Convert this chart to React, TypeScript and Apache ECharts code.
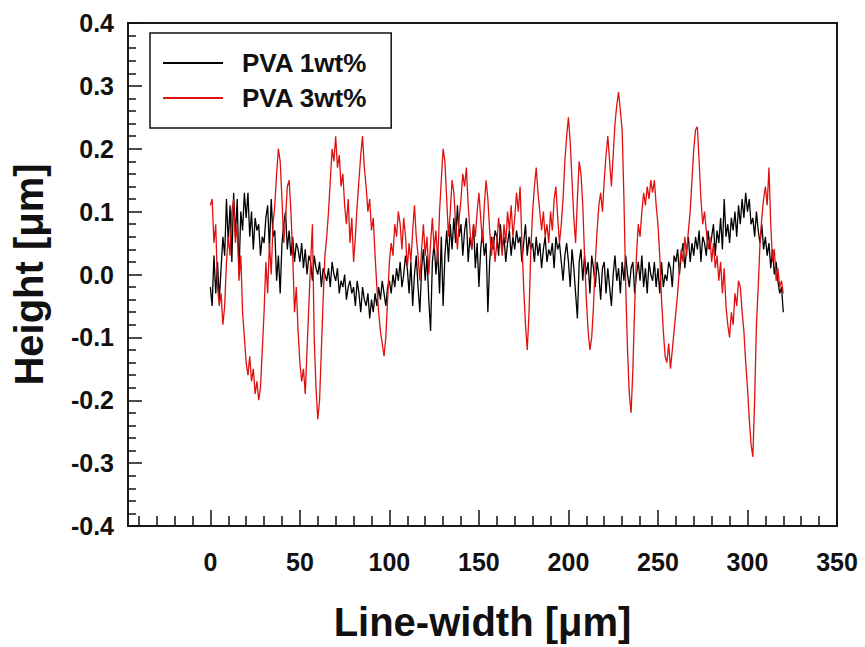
import React, { useEffect, useRef } from "react";
import * as echarts from "echarts";

// Sampling grid (µm) for both profiles
const xStart = 0;
const xStep = 1;

// PVA 1wt% heights (µm), x = 0..320
const pva1 = [
  -0.02, -0.05, 0.03, -0.03, 0.02, -0.04, 0.01, 0.06, 0.03, 0.12,
  0.05, 0.11, 0.02, 0.13, 0.06, 0.12, 0.0, 0.1, 0.07, 0.13,
  0.09, 0.13, 0.06, 0.1, 0.04, 0.09, 0.07, 0.08, 0.03, 0.06,
  0.05, 0.09, 0.11, 0.04, 0.12, 0.06, 0.07, -0.01, 0.03, -0.03,
  0.05, 0.08, 0.1, 0.04, 0.07, 0.03, 0.06, 0.02, 0.05, 0.04,
  0.02, 0.05, 0.01, 0.04, 0.0, 0.03, 0.02, -0.01, 0.03, 0.01,
  0.0, 0.02, -0.02, 0.01, 0.0, -0.01, 0.01, -0.02, 0.02, 0.0,
  -0.01, 0.01, -0.03, -0.01, -0.02, 0.0, -0.04, -0.02, -0.01, -0.03,
  -0.02, -0.05, -0.01, -0.03, -0.06, -0.02, -0.04, -0.05, -0.03, -0.07,
  -0.04, -0.06, -0.03, -0.05, -0.02, -0.04, -0.01, -0.03, -0.05, -0.02,
  -0.01, -0.03, 0.0, -0.02, 0.01, -0.01, 0.02, -0.02, 0.0, 0.03,
  0.01, -0.03, 0.02, -0.05, 0.0, 0.03, -0.02, -0.06, 0.01, 0.04,
  -0.01, 0.03, -0.04, -0.09, 0.02, 0.05, 0.0, 0.04, -0.03, 0.06,
  -0.05, 0.03, 0.07, 0.02, 0.08, 0.04, 0.09, 0.05, 0.11, 0.06,
  0.08, 0.03, 0.07, 0.09, 0.02, 0.06, 0.04, 0.08, 0.01, 0.05,
  -0.02, 0.04, 0.07, 0.03, 0.05, -0.06, 0.02, 0.06, 0.04, 0.07,
  0.06, 0.03, 0.08, 0.04, 0.06, 0.02, 0.05, 0.07, 0.03, 0.06,
  0.04, 0.07, 0.05, 0.06, 0.02, 0.05, 0.08, 0.03, 0.06, 0.04,
  0.05, 0.02, 0.06, 0.03, 0.05, 0.01, 0.04, 0.06, 0.02, 0.04,
  0.03, 0.05, 0.01, 0.06, 0.04, 0.05, 0.02, -0.01, 0.03, 0.05,
  0.02, -0.02, 0.04, 0.01, -0.03, -0.07, 0.02, 0.04, -0.01, 0.03,
  0.0, 0.02, -0.03, 0.03, 0.01, -0.02, 0.02, 0.0, -0.04, 0.01,
  0.02, -0.03, 0.01, -0.02, -0.05, 0.0, 0.03, -0.01, 0.01, -0.03,
  0.02, -0.01, 0.03, 0.0, -0.02, 0.01, 0.02, -0.03, 0.0, 0.02,
  -0.01, 0.03, -0.02, 0.01, -0.03, 0.02, 0.0, -0.01, 0.02, -0.02,
  0.01, -0.03, 0.02, -0.02, 0.0, -0.01, 0.02, 0.01, -0.02, 0.03,
  0.02, 0.04, 0.0, 0.03, 0.05, 0.01, 0.04, 0.06, 0.02, 0.05,
  0.03, 0.06, 0.04, 0.07, 0.02, 0.06, 0.05, 0.03, 0.07, 0.04,
  0.06, 0.08, 0.03, 0.07, 0.05, 0.09, 0.04, 0.12, 0.06, 0.08,
  0.05, 0.09, 0.07, 0.1, 0.06, 0.11, 0.08, 0.12, 0.09, 0.13,
  0.1, 0.12, 0.08, 0.09, 0.06, 0.1, 0.07, 0.05, 0.08, 0.04,
  0.06, 0.03, 0.05, 0.01, 0.04, 0.0, 0.02, -0.01, -0.03, -0.02,
  -0.06,
];

// PVA 3wt% heights (µm), x = 0..320
const pva3 = [
  0.11, 0.12, 0.05, 0.08, -0.02, -0.05, -0.03, -0.08, -0.05, 0.02,
  0.06, 0.03, 0.1, 0.12, 0.05, 0.08, -0.01, 0.03, -0.06, -0.1,
  -0.14, -0.16, -0.13, -0.17, -0.15, -0.19, -0.17, -0.2, -0.18, -0.12,
  -0.06, 0.02, -0.03, 0.05, 0.0, 0.08, 0.11, 0.16, 0.2, 0.18,
  0.12, 0.05, 0.09, 0.14, 0.15, 0.1, 0.03, -0.06, -0.02, -0.09,
  -0.14, -0.17, -0.15, -0.19, -0.12, -0.05, 0.02, 0.08, -0.1, -0.18,
  -0.23, -0.2, -0.12, -0.04, 0.03, 0.06, 0.1, 0.15, 0.2, 0.18,
  0.22, 0.17, 0.19, 0.14, 0.16, 0.11, 0.08, 0.12, 0.05, 0.09,
  0.02, 0.06, 0.11, 0.15, 0.19, 0.22, 0.17, 0.14, 0.1, 0.12,
  0.07, 0.09, 0.03, -0.02, -0.06, -0.09, -0.11, -0.13, -0.1, -0.04,
  0.02, 0.05, 0.03, 0.08, 0.06, 0.1, 0.08, 0.04, 0.09, 0.06,
  0.01, 0.05, 0.02, 0.07, 0.11, 0.06, 0.03, -0.01, 0.04, 0.08,
  0.03, 0.06, 0.0, 0.05, 0.09, 0.04, 0.07, 0.02, 0.1, 0.15,
  0.2, 0.18, 0.12, 0.06, 0.1, 0.15, 0.13, 0.08, 0.04, 0.09,
  0.12, 0.16, 0.14, 0.17, 0.11, 0.07, 0.04, 0.08, 0.06, 0.1,
  0.13, 0.09, 0.05, 0.11, 0.15, 0.12, 0.07, 0.03, 0.06, 0.02,
  0.05, 0.09, 0.06, 0.03, 0.08, 0.05, 0.1, 0.07, 0.11, 0.06,
  0.09, 0.13, 0.1, 0.14, 0.05, -0.02, -0.08, -0.12, -0.06, 0.04,
  0.1, 0.14, 0.17, 0.13, 0.1, 0.07, 0.1, 0.06, 0.08, 0.05,
  0.1, 0.07, 0.12, 0.14, 0.09, 0.05, 0.08, 0.12, 0.18, 0.22,
  0.25, 0.21, 0.15, 0.09, 0.05, 0.12, 0.18, 0.16, 0.11, 0.03,
  -0.04, -0.09, -0.12, -0.1, -0.05, 0.02, 0.07, 0.11, 0.13, 0.1,
  0.15, 0.19, 0.22, 0.18, 0.14, 0.19, 0.24, 0.27, 0.29, 0.26,
  0.23, 0.12, -0.02, -0.12, -0.19, -0.22, -0.15, -0.05, 0.03, 0.08,
  0.06, 0.1, 0.13, 0.11, 0.14, 0.12, 0.15, 0.13, 0.15, 0.11,
  0.08, 0.03, -0.04, -0.09, -0.13, -0.14, -0.11, -0.15, -0.12, -0.09,
  -0.06, -0.03, 0.01, 0.04, 0.02, 0.06, 0.03, 0.07, 0.1, 0.15,
  0.2, 0.23, 0.235, 0.18, 0.12, 0.08, 0.1, 0.07, 0.04, 0.06,
  0.02, 0.05, 0.01, 0.03, -0.01, 0.02, -0.03, 0.01, -0.05, -0.08,
  -0.1, -0.06, -0.08, -0.03, -0.05, -0.01, -0.02, -0.06, -0.09, -0.14,
  -0.18, -0.23, -0.27, -0.29, -0.2, -0.08, -0.02, 0.05, 0.09, 0.12,
  0.14, 0.11, 0.17, 0.08, 0.02, 0.04, -0.01, 0.01, -0.02, -0.01,
  -0.03,
];

const seriesNames = ["PVA 1wt%", "PVA 3wt%"];
const xMajorTicks = [0, 50, 100, 150, 200, 250, 300, 350];
const xMinorTicks = [
  -40, -30, -20, -10, 10, 20, 30, 40, 60, 70, 80, 90, 110, 120, 130, 140,
  160, 170, 180, 190, 210, 220, 230, 240, 260, 270, 280, 290, 310, 320, 330, 340,
];
const xTitle = "Line-width [μm]";
const yTitle = "Height [μm]";

const FONT = "'Liberation Sans', Arial, Helvetica, sans-serif";

function toPairs(values: number[]) {
  return values.map((v, i) => [xStart + i * xStep, v]);
}

export default function App() {
  const ref = useRef<HTMLDivElement>(null);
  useEffect(() => {
    if (!ref.current) return;
    const chart = echarts.init(ref.current, undefined, { renderer: "svg" });
    const xMin = -46;
    const xMax = 350;
    chart.setOption({
      animation: false,
      backgroundColor: "#ffffff",
      grid: {
        left: 128,
        right: 28,
        top: 23,
        bottom: 116,
        show: true,
        borderColor: "#1a1a1a",
        borderWidth: 2,
        backgroundColor: "transparent",
      },
      legend: {
        orient: "vertical",
        left: 150,
        top: 33,
        data: seriesNames,
        icon: "rect",
        itemWidth: 60,
        itemHeight: 2,
        itemGap: 9,
        padding: [17, 24, 17, 13],
        borderColor: "#111",
        borderWidth: 1.5,
        backgroundColor: "#ffffff",
        textStyle: {
          fontFamily: FONT,
          fontWeight: "bold",
          fontSize: 26,
          lineHeight: 25,
          color: "#111",
          padding: [0, 0, 0, 14],
        },
      },
      xAxis: [
        {
          type: "value",
          min: xMin,
          max: xMax,
          name: xTitle,
          nameLocation: "middle",
          nameGap: 76,
          nameTextStyle: {
            fontFamily: FONT,
            fontWeight: "bold",
            fontSize: 40,
            color: "#111",
          },
          axisLine: { show: false, onZero: false },
          splitLine: { show: false },
          axisTick: {
            show: true,
            inside: true,
            length: 16,
            customValues: xMajorTicks,
            lineStyle: { color: "#111", width: 1.5 },
          },
          axisLabel: {
            customValues: xMajorTicks,
            margin: 23,
            fontFamily: FONT,
            fontWeight: "bold",
            fontSize: 25,
            color: "#111",
          },
        },
        {
          type: "value",
          min: xMin,
          max: xMax,
          position: "bottom",
          axisLine: { show: false, onZero: false },
          splitLine: { show: false },
          axisLabel: { show: false },
          axisTick: {
            show: true,
            inside: true,
            length: 10,
            customValues: xMinorTicks,
            lineStyle: { color: "#111", width: 1.5 },
          },
        },
      ],
      yAxis: {
        type: "value",
        min: -0.4,
        max: 0.4,
        interval: 0.1,
        name: yTitle,
        nameLocation: "middle",
        nameGap: 79,
        nameTextStyle: {
          fontFamily: FONT,
          fontWeight: "bold",
          fontSize: 40,
          color: "#111",
        },
        axisLine: { show: false, onZero: false },
        splitLine: { show: false },
        axisTick: {
          show: true,
          inside: true,
          length: 14,
          lineStyle: { color: "#111", width: 1.5 },
        },
        minorTick: {
          show: true,
          splitNumber: 5,
          length: 8,
          lineStyle: { color: "#111", width: 1.5 },
        },
        axisLabel: {
          margin: 14,
          fontFamily: FONT,
          fontWeight: "bold",
          fontSize: 25,
          color: "#111",
          formatter: (v: number) => v.toFixed(1),
        },
      },
      series: [
        {
          name: seriesNames[0],
          type: "line",
          data: toPairs(pva1),
          showSymbol: false,
          symbol: "none",
          color: "#000000",
          lineStyle: { color: "#000000", width: 1.3 },
        },
        {
          name: seriesNames[1],
          type: "line",
          data: toPairs(pva3),
          showSymbol: false,
          symbol: "none",
          color: "#e01010",
          lineStyle: { color: "#e01010", width: 1.3 },
        },
      ],
    });
    return () => chart.dispose();
  }, []);
  return <div ref={ref} style={{ width: 865, height: 647, position: "absolute", left: 0, top: 0 }} />;
}
